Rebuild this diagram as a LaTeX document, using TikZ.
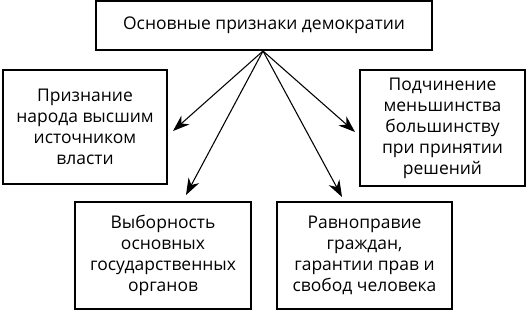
\documentclass[tikz,border=0pt]{standalone}
\usepackage{fontspec}
\setmainfont{Open Sans}
\usetikzlibrary{arrows.meta,shadows}
\begin{document}
\begin{tikzpicture}[x=0.75pt,y=-0.75pt,
  box/.style={draw=black,line width=0.8pt,fill=white,align=center,inner sep=0pt,
    font=\fontsize{13.1}{15.8}\selectfont,
    drop shadow={shadow xshift=0.7pt,shadow yshift=-0.7pt,fill=black,opacity=1}},
  arr/.style={line width=0.8pt,-{Stealth[length=12.5pt,width=9pt,inset=4pt]}}]
\useasboundingbox (0,0) rectangle (527,310);
\node[box,minimum width=336*0.75pt,minimum height=49*0.75pt] (top) at (264,25.5) {Основные признаки демократии};
\node[box,minimum width=164*0.75pt,minimum height=114*0.75pt] (left) at (85,127) {Признание\\народа высшим\\источником\\власти};
\node[box,minimum width=165*0.75pt,minimum height=116*0.75pt] (right) at (442.5,128) {Подчинение\\меньшинства\\большинству\\при принятии\\решений};
\node[box,minimum width=176*0.75pt,minimum height=107*0.75pt] (bl) at (163,255.5) {Выборность\\основных\\государственных\\органов};
\node[box,minimum width=175*0.75pt,minimum height=107*0.75pt] (br) at (364.5,255.5) {Равноправие\\граждан,\\гарантии прав и\\свобод человека};
\coordinate (o) at (263,51);
\coordinate (tl) at (173,131);
\coordinate (tr) at (355,132);
\coordinate (tbl) at (186,195);
\coordinate (tbr) at (342,197);
\draw[arr] (o) -- (tl);
\draw[arr] (o) -- (tr);
\draw[arr] (o) -- (tbl);
\draw[arr] (o) -- (tbr);
\end{tikzpicture}
\end{document}
